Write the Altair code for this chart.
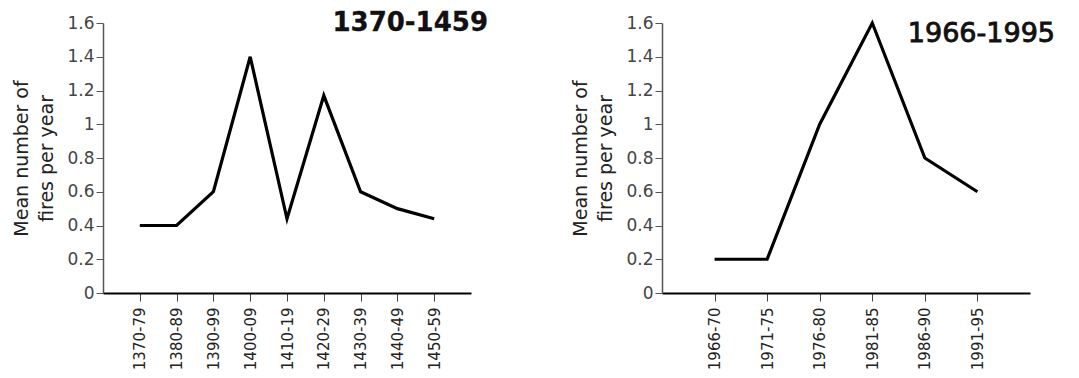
import altair as alt
import pandas as pd

left_periods = ["1370-79", "1380-89", "1390-99", "1400-09", "1410-19",
                "1420-29", "1430-39", "1440-49", "1450-59"]
left_values = [0.4, 0.4, 0.6, 1.4, 0.44, 1.17, 0.6, 0.5, 0.44]

right_periods = ["1966-70", "1971-75", "1976-80", "1981-85", "1986-90", "1991-95"]
right_values = [0.2, 0.2, 1.0, 1.6, 0.8, 0.6]

y_ticks = [0, 0.2, 0.4, 0.6, 0.8, 1.0, 1.2, 1.4, 1.6]
y_title = ["Mean number of", "fires  per  year"]

W, H = 368, 270
FONT = "DejaVu Sans"


def panel(periods, values, title, weight, stroke_w, size, title_x, title_y):
    df = pd.DataFrame({"period": periods, "value": values})
    x = alt.X("period:O", sort=periods,
              scale=alt.Scale(type="point", padding=1),
              axis=alt.Axis(title=None, labelAngle=-90, labelFontSize=15,
                            labelFont=FONT, labelColor="#222",
                            labelPadding=6, tickSize=8, tickColor="#444",
                            domainColor="black", domainWidth=2,
                            labelAlign="right", labelBaseline="middle"))
    y = alt.Y("value:Q", scale=alt.Scale(domain=[0, 1.6], nice=False),
              axis=alt.Axis(title=y_title, values=y_ticks, format="~g",
                            labelFontSize=17, labelFont=FONT, labelColor="#444",
                            tickSize=7, tickColor="#555", labelPadding=2,
                            domainColor="#555", domainWidth=1.5,
                            titleFont=FONT, titleFontSize=19,
                            titleFontWeight="normal", titleColor="#222",
                            titlePadding=10, titleLineHeight=25, grid=False))
    line = alt.Chart(df).mark_line(color="black", strokeWidth=3.2,
                                   strokeJoin="miter").encode(x=x, y=y)
    txt = alt.Chart(pd.DataFrame({"t": [title]})).mark_text(
        font=FONT, fontSize=size, fontWeight=weight, align="right",
        baseline="middle", color="#111", stroke="#111",
        strokeWidth=stroke_w).encode(
        text="t:N", x=alt.value(title_x), y=alt.value(title_y))
    return alt.layer(line, txt).properties(width=W, height=H)


left = panel(left_periods, left_values, "1370-1459", "bold", 0.3, 26, W + 17, 0)
right = panel(right_periods, right_values, "1966-1995", "normal", 0.9, 27, W + 25, 11)

chart = alt.hconcat(left, right, spacing=191, bounds="flush").configure(
    font=FONT).configure_view(strokeWidth=0, stroke="transparent").properties(
    padding={"left": 4, "top": 2, "right": 5, "bottom": 5})

chart.save("out.html", embed_options={"renderer": "svg", "actions": False})
